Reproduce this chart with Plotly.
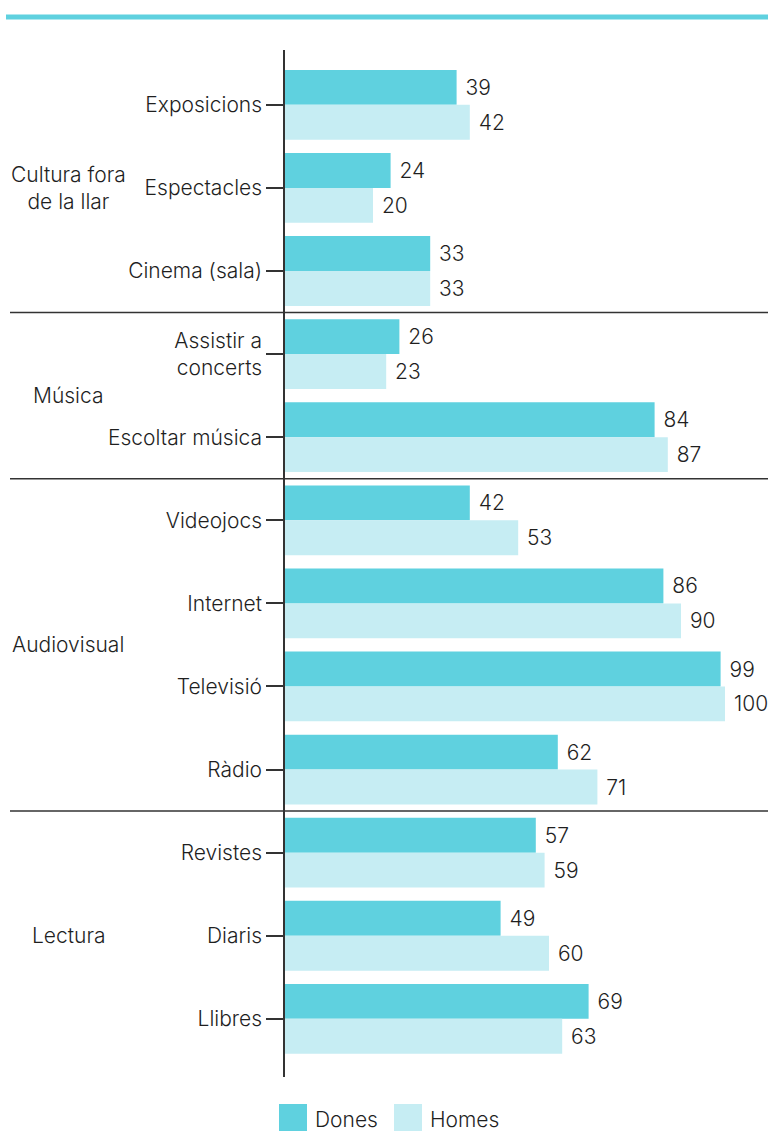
import plotly.graph_objects as go

# Activities, grouped by area, in display order (top to bottom)
categories = ["Exposicions", "Espectacles", "Cinema (sala)",
              "Assistir a<br>concerts", "Escoltar música",
              "Videojocs", "Internet", "Televisió", "Ràdio",
              "Revistes", "Diaris", "Llibres"]
dones = [39, 24, 33, 26, 84, 42, 86, 99, 62, 57, 49, 69]
homes = [42, 20, 33, 23, 87, 53, 90, 100, 71, 59, 60, 63]

groups = ["Cultura fora<br>de la llar", "Música", "Audiovisual", "Lectura"]
group_centres = [1, 3.5, 6.5, 10]
group_breaks = [2.5, 4.5, 8.5]

C_DONES = "#5fd1df"
C_HOMES = "#c6edf3"
INK = "#1f1f1f"
FONT = "Inter"
FS = 21
WEIGHT = 350

W, H = 773, 1131
ML, MR, MT, MB = 285, 0, 50, 54
PW = W - ML - MR
PH = H - MT - MB
PX_PER_UNIT = 4.4
XMAX = PW / PX_PER_UNIT

def px_x(px):
    return (px - ML) / PW

def px_y(py):
    return (H - MB - py) / PH

def tfont():
    return dict(family=FONT, size=FS, color=INK, weight=WEIGHT)

pos = list(range(len(categories)))
PAD = "\u00a0"

fig = go.Figure()
fig.add_bar(y=pos, x=dones, orientation="h", name="Dones",
            marker=dict(color=C_DONES, line=dict(width=0)),
            text=[PAD + str(v) for v in dones], textposition="outside",
            textfont=tfont(), cliponaxis=False)
fig.add_bar(y=pos, x=homes, orientation="h", name="Homes",
            marker=dict(color=C_HOMES, line=dict(width=0)),
            text=[PAD + str(v) for v in homes], textposition="outside",
            textfont=tfont(), cliponaxis=False)

fig.update_layout(
    width=W, height=H,
    margin=dict(l=ML, r=MR, t=MT, b=MB),
    paper_bgcolor="white", plot_bgcolor="white",
    barmode="group", bargap=0.16, bargroupgap=0,
    showlegend=False,
    font=tfont(),
    uniformtext=dict(minsize=FS, mode="show"),
    xaxis=dict(range=[0, XMAX], visible=False, fixedrange=True),
    yaxis=dict(range=[11.7, -0.66], tickmode="array", tickvals=pos,
               ticktext=categories, ticks="outside", ticklen=17,
               tickwidth=1.5, tickcolor="#333", showline=True,
               linecolor="#333", linewidth=1.5, showgrid=False,
               zeroline=False, tickfont=tfont()),
)

shapes = []
# accent rule across the top
shapes.append(dict(type="line", xref="paper", yref="paper",
                   x0=px_x(6), x1=px_x(768), y0=px_y(17), y1=px_y(17),
                   line=dict(color=C_DONES, width=5)))
# separators between groups
for b in group_breaks:
    shapes.append(dict(type="line", xref="paper", yref="y",
                       x0=px_x(10), x1=px_x(768), y0=b, y1=b,
                       line=dict(color="#333", width=1.5)))
# legend swatches
for x0, col in [(279, C_DONES), (394, C_HOMES)]:
    shapes.append(dict(type="rect", xref="paper", yref="paper",
                       x0=px_x(x0), x1=px_x(x0 + 28),
                       y0=px_y(1104), y1=px_y(1132),
                       fillcolor=col, line=dict(width=0)))
fig.update_layout(shapes=shapes)

annotations = []
for g, c in zip(groups, group_centres):
    annotations.append(dict(text=g, xref="paper", yref="y", x=px_x(68), y=c,
                            xanchor="center", yanchor="middle", align="center",
                            showarrow=False, font=tfont()))
for label, x0 in [("Dones", 313), ("Homes", 428)]:
    annotations.append(dict(text=label, xref="paper", yref="paper",
                            x=px_x(x0), y=px_y(1119), xanchor="left",
                            yanchor="middle", showarrow=False, font=tfont()))
fig.update_layout(annotations=annotations)

fig.write_html("out.html")
